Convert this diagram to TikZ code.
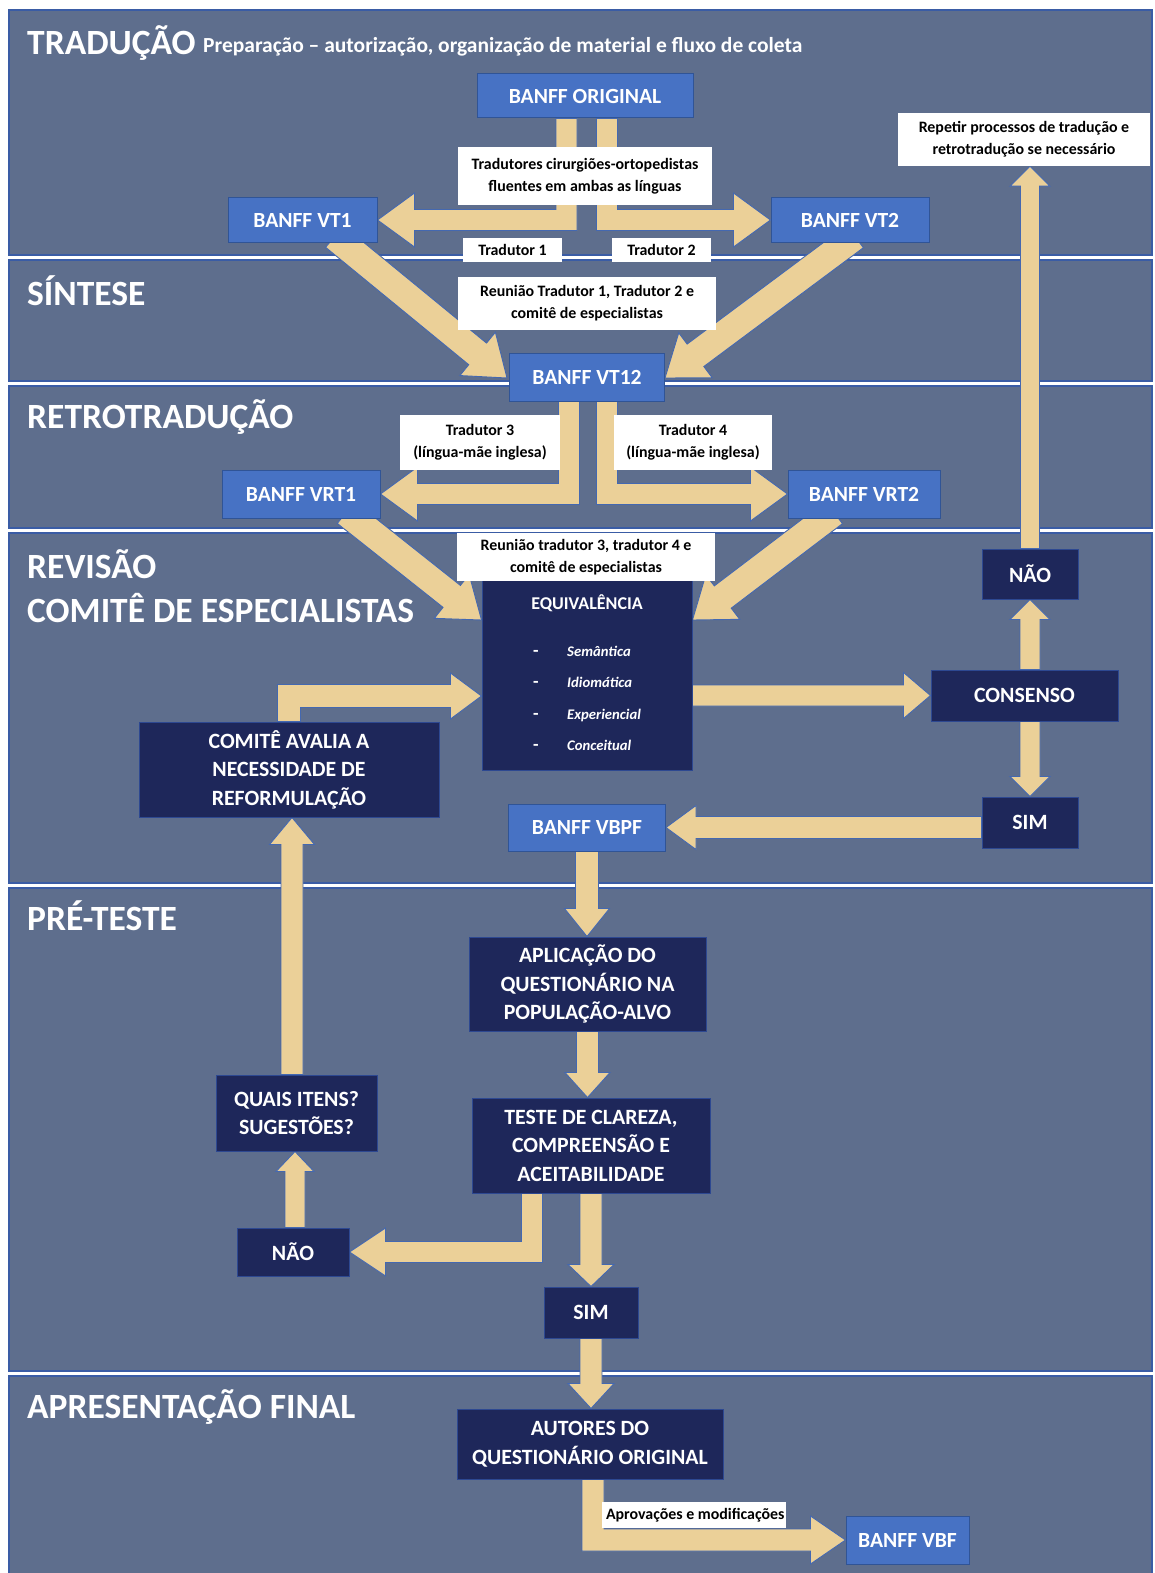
\documentclass[tikz,border=0pt]{standalone}
\usepackage{fontspec}
\setmainfont{Carlito}
\usetikzlibrary{calc}
\definecolor{bandc}{RGB}{94,110,141}
\definecolor{bandl}{RGB}{58,92,165}
\definecolor{lblue}{RGB}{71,114,196}
\definecolor{lblueb}{RGB}{48,84,150}
\definecolor{navy}{RGB}{30,39,90}
\definecolor{navyb}{RGB}{45,72,145}
\definecolor{tanc}{RGB}{235,208,152}
\definecolor{tanb}{RGB}{68,104,176}
\pgfdeclarelayer{bands}
\pgfdeclarelayer{arrows}
\pgfsetlayers{bands,arrows,main}
\newcommand\bentarrow[5]{%
  \draw[arr] let \p1=(#1), \p2=(#2), \n1={sign(\x2-\x1)}, \n2={sign(\y2-\y1)} in
    ({\x1-(\n1)*#3},\y1) -- ({\x1-(\n1)*#3},{\y2+(\n2)*#3}) -- ({\x2-(\n1)*#5},{\y2+(\n2)*#3})
    -- ({\x2-(\n1)*#5},{\y2+(\n2)*#4}) -- (\x2,\y2) -- ({\x2-(\n1)*#5},{\y2-(\n2)*#4})
    -- ({\x2-(\n1)*#5},{\y2-(\n2)*#3}) -- ({\x1+(\n1)*#3},{\y2-(\n2)*#3}) -- ({\x1+(\n1)*#3},\y1) -- cycle;}
\newcommand\blockarrow[5]{%
  \coordinate (bac) at ($(#2)!#5!(#1)$);
  \draw[arr] ($(#1)!#3!90:(#2)$) -- ($(bac)!#3!90:(#2)$) -- ($(bac)!#4!90:(#2)$) -- (#2)
    -- ($(bac)!#4!-90:(#2)$) -- ($(bac)!#3!-90:(#2)$) -- ($(#1)!#3!-90:(#2)$) -- cycle;}
\begin{document}
\begin{tikzpicture}[x=1pt,y=-1pt,
  arr/.style={fill=tanc,draw=tanb,line width=0.9pt,line join=miter},
  band/.style={fill=bandc,draw=bandl,line width=1.6pt},
  lbox/.style={fill=lblue,draw=lblueb,line width=1pt,text=white,inner sep=0pt,font=\bfseries\fontsize{21.6}{24}\selectfont},
  dbox/.style={fill=navy,draw=navyb,line width=1pt,text=white,inner sep=0pt,align=center,font=\bfseries\fontsize{21.8}{28.5}\selectfont},
  wlab/.style={fill=white,text=black,inner sep=0pt,align=center,font=\bfseries\fontsize{15.9}{22}\selectfont},
  ttl/.style={text=white,inner sep=0pt,anchor=base west,font=\bfseries\fontsize{35.5}{40}\selectfont},
  eqit/.style={text=white,inner sep=0pt,anchor=base west,font=\bfseries\itshape\fontsize{14.7}{16}\selectfont}]
\useasboundingbox (0,0) rectangle (1155,1573);
% bands
\begin{pgfonlayer}{bands}
\fill[white] (0,0) rectangle (1155,1573);
\draw[band] (9,10) rectangle (1152,255);
\draw[band] (9,260) rectangle (1152,381);
\draw[band] (9,386) rectangle (1152,528);
\draw[band] (9,533) rectangle (1152,883);
\draw[band] (9,888) rectangle (1152,1371);
\draw[band] (9,1376) rectangle (1152,1600);
\end{pgfonlayer}
% titles
\node[ttl] (t1) at (27,55) {TRADUÇÃO};
\node[ttl,font=\bfseries\fontsize{21.5}{24}\selectfont] (t1b) at (203,53) {Preparação – autorização, organização de material e fluxo de coleta};
\node[ttl] (t2) at (27,305) {SÍNTESE};
\node[ttl] (t3) at (27,428) {RETROTRADUÇÃO};
\node[ttl] (t4) at (27,578) {REVISÃO};
\node[ttl] (t4b) at (27,622) {COMITÊ DE ESPECIALISTAS};
\node[ttl] (t5) at (27,930) {PRÉ-TESTE};
\node[ttl] (t6) at (27,1418) {APRESENTAÇÃO FINAL};
% boxes
\node[lbox,minimum width=216pt,minimum height=44pt] (orig) at (585,96) {BANFF ORIGINAL};
\node[lbox,minimum width=149pt,minimum height=44pt] (vt1) at (302.5,220) {BANFF VT1};
\node[lbox,minimum width=158pt,minimum height=44pt] (vt2) at (850,220) {BANFF VT2};
\node[wlab,minimum width=254pt,minimum height=58pt] (ltrad) at (585,176) {Tradutores cirurgiões-ortopedistas\\fluentes em ambas as línguas};
\node[wlab,minimum width=99pt,minimum height=24pt] (lt1) at (512.5,250) {Tradutor 1};
\node[wlab,minimum width=99pt,minimum height=24pt] (lt2) at (661.5,250) {Tradutor 2};
\node[wlab,minimum width=252pt,minimum height=53pt] (lrep) at (1024,139.5) {Repetir processos de tradução e\\retrotradução se necessário};
\node[wlab,minimum width=258pt,minimum height=53pt] (lreu1) at (587,303.5) {Reunião Tradutor 1, Tradutor 2 e\\comitê de especialistas};
\node[lbox,minimum width=155pt,minimum height=48pt] (vt12) at (587,377) {BANFF VT12};
\node[wlab,minimum width=160pt,minimum height=55pt] (lt3) at (480,442.5) {Tradutor 3\\(língua-mãe inglesa)};
\node[wlab,minimum width=158pt,minimum height=55pt] (lt4) at (693,442.5) {Tradutor 4\\(língua-mãe inglesa)};
\node[lbox,minimum width=158pt,minimum height=48pt] (vrt1) at (301,494) {BANFF VRT1};
\node[lbox,minimum width=152pt,minimum height=48pt] (vrt2) at (864,494) {BANFF VRT2};
\node[dbox,minimum width=210pt,minimum height=190pt] (equiv) at (587,675) {};
\node[wlab,minimum width=258pt,minimum height=48pt] (lreu2) at (586,557) {Reunião tradutor 3, tradutor 4 e\\comitê de especialistas};
\node[text=white,inner sep=0pt,font=\bfseries\fontsize{18}{20}\selectfont] (eqt) at (587,603) {EQUIVALÊNCIA};
\node[eqit,font=\bfseries\fontsize{18}{20}\selectfont] (d1) at (533,656) {-};
\node[eqit] (e1) at (567,656) {Semântica};
\node[eqit,font=\bfseries\fontsize{18}{20}\selectfont] (d2) at (533,687) {-};
\node[eqit] (e2) at (567,687) {Idiomática};
\node[eqit,font=\bfseries\fontsize{18}{20}\selectfont] (d3) at (533,719) {-};
\node[eqit] (e3) at (567,719) {Experiencial};
\node[eqit,font=\bfseries\fontsize{18}{20}\selectfont] (d4) at (533,750) {-};
\node[eqit] (e4) at (567,750) {Conceitual};
\node[dbox,minimum width=187pt,minimum height=51pt] (cons) at (1024.5,695.5) {CONSENSO};
\node[dbox,minimum width=96pt,minimum height=50pt] (naor) at (1030,574) {NÃO};
\node[dbox,minimum width=96pt,minimum height=51pt] (simr) at (1030,822.5) {SIM};
\node[lbox,minimum width=157pt,minimum height=47pt] (vbpf) at (587,827.5) {BANFF VBPF};
\node[dbox,minimum width=300pt,minimum height=95pt] (comite) at (289,769.5) {COMITÊ AVALIA A\\NECESSIDADE DE\\REFORMULAÇÃO};
\node[dbox,minimum width=237pt,minimum height=94pt] (aplic) at (587.5,984) {APLICAÇÃO DO\\QUESTIONÁRIO NA\\POPULAÇÃO-ALVO};
\node[dbox,minimum width=238pt,minimum height=95pt] (teste) at (591,1145.5) {TESTE DE CLAREZA,\\COMPREENSÃO E\\ACEITABILIDADE};
\node[dbox,minimum width=161pt,minimum height=76pt] (quais) at (296.5,1113) {QUAIS ITENS?\\SUGESTÕES?};
\node[dbox,minimum width=112pt,minimum height=48pt] (naol) at (293,1252) {NÃO};
\node[dbox,minimum width=94pt,minimum height=51pt] (simb) at (591,1312.5) {SIM};
\node[dbox,minimum width=266pt,minimum height=70pt] (autores) at (590,1444) {AUTORES DO\\QUESTIONÁRIO ORIGINAL};
\node[wlab,minimum width=184pt,minimum height=26pt] (laprov) at (694,1515) {};
\node[wlab,anchor=west] (laprovt) at ($(laprov.west)+(4,0)$) {Aprovações e modificações};
\node[lbox,minimum width=123pt,minimum height=48pt] (vbf) at (907.5,1540) {BANFF VBF};
% arrows
\begin{pgfonlayer}{arrows}
\coordinate (s1) at ($(orig.south)+(-18.5,0)$);
\bentarrow{s1}{vt1.east}{10.5pt}{27pt}{37pt}
\coordinate (s2) at ($(orig.south)+(22,0)$);
\bentarrow{s2}{vt2.west}{10.5pt}{27pt}{37pt}
\coordinate (d1s) at ($(vt1.south)+(32,-6)$);
\coordinate (d1e) at ($(vt12.west)+(-2,1)$);
\blockarrow{d1s}{d1e}{14pt}{28pt}{38pt}
\coordinate (d2s) at ($(vt2.south)+(5,-6)$);
\coordinate (d2e) at ($(vt12.east)+(0,1)$);
\blockarrow{d2s}{d2e}{14pt}{28pt}{38pt}
\coordinate (s5) at ($(vt12.south)+(-18,0)$);
\bentarrow{s5}{vrt1.east}{10.5pt}{27pt}{37pt}
\coordinate (s6) at ($(vt12.south)+(20,0)$);
\bentarrow{s6}{vrt2.west}{10.5pt}{27pt}{37pt}
\coordinate (d3s) at ($(vrt1.south)+(45,-6)$);
\coordinate (d3e) at ($(equiv.west)+(0,-55)$);
\blockarrow{d3s}{d3e}{14pt}{28pt}{38pt}
\coordinate (d4s) at ($(vrt2.south)+(-30,-6)$);
\coordinate (d4e) at ($(equiv.east)+(0,-55)$);
\blockarrow{d4s}{d4e}{14pt}{28pt}{38pt}
\coordinate (a9s) at (equiv.east |- cons.west);
\blockarrow{a9s}{cons.west}{10.5pt}{23pt}{27pt}
\coordinate (a10s) at (naor.south |- cons.north);
\blockarrow{a10s}{naor.south}{10pt}{20pt}{20pt}
\coordinate (a11s) at (simr.north |- cons.south);
\blockarrow{a11s}{simr.north}{10pt}{20pt}{20pt}
\coordinate (a12e) at (naor.north |- lrep.south);
\blockarrow{naor.north}{a12e}{9.5pt}{20pt}{20pt}
\coordinate (a13s) at (simr.west |- vbpf.east);
\blockarrow{a13s}{vbpf.east}{11pt}{22pt}{30pt}
\coordinate (a14e) at ($(equiv.west)+(0,21)$);
\bentarrow{comite.north}{a14e}{11.5pt}{23pt}{31pt}
\coordinate (a15s) at ($(quais.north)+(-4.5,0)$);
\coordinate (a15e) at (a15s |- comite.south);
\blockarrow{a15s}{a15e}{11pt}{22.5pt}{27pt}
\coordinate (a16e) at (vbpf.south |- aplic.north);
\blockarrow{vbpf.south}{a16e}{11.5pt}{22.5pt}{28pt}
\coordinate (a17e) at (aplic.south |- teste.north);
\blockarrow{aplic.south}{a17e}{11pt}{22.5pt}{25pt}
\coordinate (a18s) at ($(teste.south)+(-59,0)$);
\bentarrow{a18s}{naol.east}{10.5pt}{24pt}{36pt}
\coordinate (a19s) at (simb.north |- teste.south);
\blockarrow{a19s}{simb.north}{11pt}{23pt}{22pt}
\coordinate (a20s) at ($(naol.north)+(2,0)$);
\coordinate (a20e) at (a20s |- quais.south);
\blockarrow{a20s}{a20e}{10pt}{19pt}{20pt}
\coordinate (a21e) at (simb.south |- autores.north);
\blockarrow{simb.south}{a21e}{11pt}{23pt}{25pt}
\coordinate (a22s) at ($(autores.south)+(3,0)$);
\bentarrow{a22s}{vbf.west}{11pt}{24pt}{35pt}
\end{pgfonlayer}
\end{tikzpicture}
\end{document}
